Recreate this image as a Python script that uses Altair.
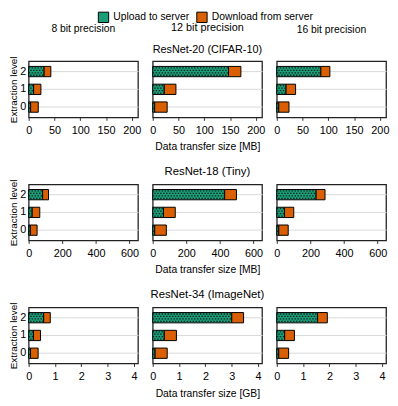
import altair as alt
import pandas as pd

levels = [0, 1, 2]
precisions = ["8 bit precision", "12 bit precision", "16 bit precision"]
models = ["ResNet-20 (CIFAR-10)", "ResNet-18 (Tiny)", "ResNet-34 (ImageNet)"]
units = ["MB", "MB", "GB"]
parts = ["Upload to server", "Download from server"]
colors = ["#1b9e77", "#d95f02"]

# values per precision (8, 12, 16 bit), each list by extraction level 0, 1, 2
r20_up = [[3.8, 9.6, 30], [3.8, 22.4, 147], [3.8, 18, 85.5]]
r20_down = [[14.8, 14.1, 13], [24.2, 22.6, 24], [19.9, 18.5, 17.5]]
r18_up = [[10, 21, 83], [12, 64, 428], [12, 46, 234]]
r18_down = [[40, 45, 35], [69, 70, 70], [56, 55, 53]]
r34_up = [[0.07, 0.18, 0.57], [0.09, 0.44, 3.0], [0.075, 0.3, 1.55]]
r34_down = [[0.29, 0.27, 0.25], [0.46, 0.46, 0.45], [0.375, 0.37, 0.37]]

ups = [r20_up, r18_up, r34_up]
downs = [r20_down, r18_down, r34_down]
x_max = [212, 650, 4.15]
x_ticks = [[0, 50, 100, 150, 200], [0, 200, 400, 600], [0, 1, 2, 3, 4]]

FONT = "Liberation Sans"
pattern_rows = [(-3.75, 0), (-1.25, 1.5), (1.25, 0), (3.75, 1.5)]


def panel(r, c):
    rows = []
    for lvl, u, d in zip(levels, ups[r][c], downs[r][c]):
        rows.append(dict(level=str(lvl), part=parts[0], start=0, end=u))
        rows.append(dict(level=str(lvl), part=parts[1], start=u, end=u + d))
    df = pd.DataFrame(rows)
    base = alt.Chart(df)
    yaxis = alt.Axis(
        title="Extraction level" if c == 0 else None,
        labels=(c == 0), ticks=False, domain=False, grid=True,
        gridColor="#d9d9d9", gridWidth=1, bandPosition=0.5,
        labelPadding=3, titlePadding=1, labelAngle=0, titleFontSize=10,
    )
    y = alt.Y("level:N", sort="descending",
              scale=alt.Scale(paddingInner=0.42, paddingOuter=0.29), axis=yaxis)
    xaxis = alt.Axis(
        values=x_ticks[r],
        title=f"Data transfer size [{units[r]}]" if c == 1 else None,
        grid=False, domain=False, ticks=True, tickSize=3, tickColor="#333",
        labelPadding=4, titlePadding=7, labelOverlap=False, labelFlush=False,
    )
    x = alt.X("start:Q", scale=alt.Scale(domain=[0, x_max[r]], nice=False, zero=True), axis=xaxis)
    bars = base.mark_bar(stroke="black", strokeWidth=1, opacity=1).encode(
        x=x, x2="end:Q", y=y,
        color=alt.Color("part:N", scale=alt.Scale(domain=parts, range=colors),
                        legend=alt.Legend(title=None, orient="none", direction="horizontal",
                                          legendX=70, legendY=-51, symbolType="square",
                                          symbolSize=110, symbolStrokeColor="black",
                                          symbolStrokeWidth=1, symbolOpacity=1,
                                          labelFontSize=10.5, labelFont=FONT,
                                          labelOffset=4, columnPadding=4, padding=0)),
    )
    dots = [
        base.transform_filter(alt.datum.part == parts[0]).mark_rule(
            strokeDash=[1.5, 1.5], strokeDashOffset=off, strokeWidth=1.3,
            yOffset=yo, color="#10261f").encode(x=x, x2="end:Q", y=y)
        for yo, off in pattern_rows
    ]
    ch = alt.layer(bars, *dots).properties(width=111, height=57)
    if r == 0:
        if c == 1:
            t = alt.Title([precisions[c], models[r]], fontSize=11, lineHeight=23,
                          fontWeight="normal", offset=6, anchor="middle", frame="group")
        else:
            t = alt.Title(precisions[c], fontSize=10.5, fontWeight="normal",
                          offset=22 if c == 0 else 26, anchor="middle", frame="group")
        ch = ch.properties(title=t)
    elif c == 1:
        ch = ch.properties(title=alt.Title(models[r], fontSize=11.5, fontWeight="normal",
                                           offset=7, anchor="middle", frame="group"))
    return ch


panels = [panel(r, c) for r in range(3) for c in range(3)]
chart = alt.concat(*panels, columns=3, spacing={"row": 68, "column": 15}, bounds="flush").resolve_scale(
    x="independent", y="independent"
).properties(padding=0).configure_view(
    stroke="#222", strokeWidth=1.3
).configure_axis(
    labelFont=FONT, titleFont=FONT, labelFontSize=11, titleFontSize=10.5,
    titleFontWeight="normal", labelColor="black", titleColor="black",
).configure_title(
    font=FONT, color="black"
).configure_legend(labelColor="black")

chart.save("out.html", embed_options={"renderer": "svg", "actions": False})
